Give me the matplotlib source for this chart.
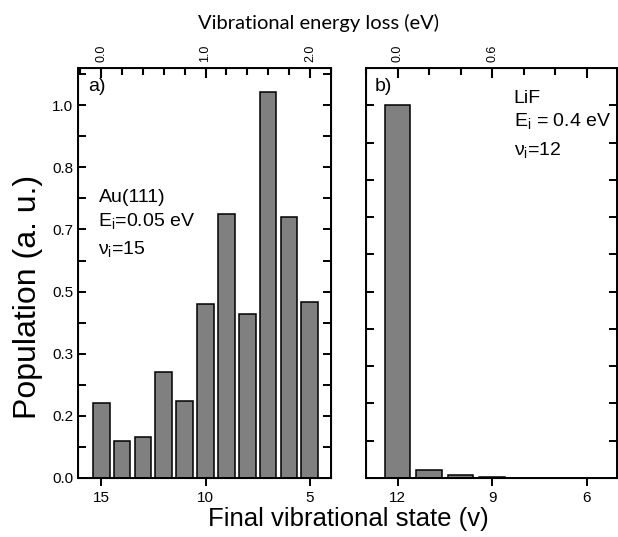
import numpy as np
import matplotlib
matplotlib.use("Agg")
import matplotlib.pyplot as plt
from matplotlib.ticker import FixedLocator, MultipleLocator

plt.rcParams['font.family'] = ['Liberation Sans', 'DejaVu Sans']
plt.rcParams['mathtext.fontset'] = 'custom'
plt.rcParams['mathtext.rm'] = 'Liberation Sans'
plt.rcParams['mathtext.it'] = 'Liberation Sans'

# Au(111), incident v = 15
au_states = [15, 14, 13, 12, 11, 10, 9, 8, 7, 6, 5]
au_pop = [0.20, 0.098, 0.111, 0.284, 0.207, 0.466, 0.709, 0.441, 1.036, 0.700, 0.473]

# LiF, incident v = 12
lif_states = [12, 11, 10, 9]
lif_pop = [1.0, 0.022, 0.008, 0.002]

ytick_vals = [0, 1/6, 2/6, 3/6, 4/6, 5/6, 1.0]
ytick_labels = ['0.0', '0.2', '0.3', '0.5', '0.7', '0.8', '1.0']

au_xticks = [15, 10, 5]
lif_xticks = [12, 9, 6]
au_eticks = [0.0, 1.0, 2.0]
au_elabels = ['0.0', '1.0', '2.0']
lif_eticks = [0.0, 0.6, 1.2]
lif_elabels = ['0.0', '0.6', '']

quantum = 0.2  # eV per vibrational quantum (approx.)

fig = plt.figure(figsize=(6.18, 5.37), dpi=100)
ax1 = fig.add_axes([0.1267, 0.1099, 0.4084, 0.7635])
ax2 = fig.add_axes([0.5922, 0.1099, 0.4055, 0.7635])


def style_axis(ax):
    for s in ax.spines.values():
        s.set_linewidth(1.4)
    ax.tick_params(axis='x', which='major', direction='out', length=6,
                   width=1.4, labelsize=11)
    ax.tick_params(axis='y', which='both', direction='in', left=True,
                   right=True, width=1.4, length=6)
    ax.set_ylim(0, 1.1)


def energy_axis(ax, v0, ticks, labels):
    # top axis: energy lost relative to the incident state v0
    top = ax.twiny()
    lo, hi = ax.get_xlim()
    top.set_xlim((v0 - lo) * quantum, (v0 - hi) * quantum)
    top.xaxis.set_major_locator(FixedLocator(ticks))
    top.xaxis.set_minor_locator(MultipleLocator(0.2))
    top.tick_params(axis='x', which='both', direction='in', width=1.5,
                    color='black')
    top.tick_params(axis='x', which='major', length=7, pad=4, labelsize=9,
                    labelrotation=90)
    top.tick_params(axis='x', which='minor', length=5)
    top.set_xticklabels(labels)
    return top


txt = dict(fontsize=14, va='center', ha='left')

# panel a
ax1.bar(au_states, au_pop, width=0.8, color='#808080', edgecolor='black',
        linewidth=1.1)
style_axis(ax1)
ax1.set_xlim(16.1, 4.0)
ax1.set_xticks(au_xticks)
ax1.set_yticks(ytick_vals)
ax1.set_yticklabels(ytick_labels, fontsize=11)
ax1.yaxis.set_minor_locator(MultipleLocator(1/12))
energy_axis(ax1, 15, au_eticks, au_elabels)
ax1.text(0.04, 0.975, 'a)', transform=ax1.transAxes, fontsize=14,
         va='top', ha='left')
ax1.text(0.08, 0.684, 'Au(111)', transform=ax1.transAxes, **txt)
ax1.text(0.08, 0.627, r'E$_\mathregular{i}$=0.05 eV', transform=ax1.transAxes,
         **txt)
ax1.text(0.08, 0.558, r'$\mathregular{\nu_i}$=15', transform=ax1.transAxes,
         **txt)

# panel b
ax2.bar(lif_states, lif_pop, width=0.8, color='#808080', edgecolor='black',
        linewidth=1.1)
style_axis(ax2)
ax2.set_xlim(13.0, 5.05)
ax2.set_xticks(lif_xticks)
ax2.set_yticks(np.arange(0, 1.05, 0.1))
ax2.set_yticklabels([])
energy_axis(ax2, 12, lif_eticks, lif_elabels)
ax2.text(0.035, 0.975, 'b)', transform=ax2.transAxes, fontsize=14,
         va='top', ha='left')
ax2.text(0.59, 0.925, 'LiF', transform=ax2.transAxes, **txt)
ax2.text(0.59, 0.87, r'E$_\mathregular{i}$ = 0.4 eV', transform=ax2.transAxes,
         **txt)
ax2.text(0.59, 0.80, r'$\mathregular{\nu_i}$=12', transform=ax2.transAxes,
         **txt)

fig.text(0.515, 0.957, 'Vibrational energy loss (eV)', ha='center',
         va='center', fontsize=14.5, family=['Lato', 'DejaVu Sans'])
fig.text(0.563, 0.033, 'Final vibrational state (v)', ha='center',
         va='center', fontsize=18.5)
fig.text(0.045, 0.447, 'Population (a. u.)', ha='center', va='center',
         rotation=90, fontsize=23)

fig.savefig('out.png', dpi=100)
